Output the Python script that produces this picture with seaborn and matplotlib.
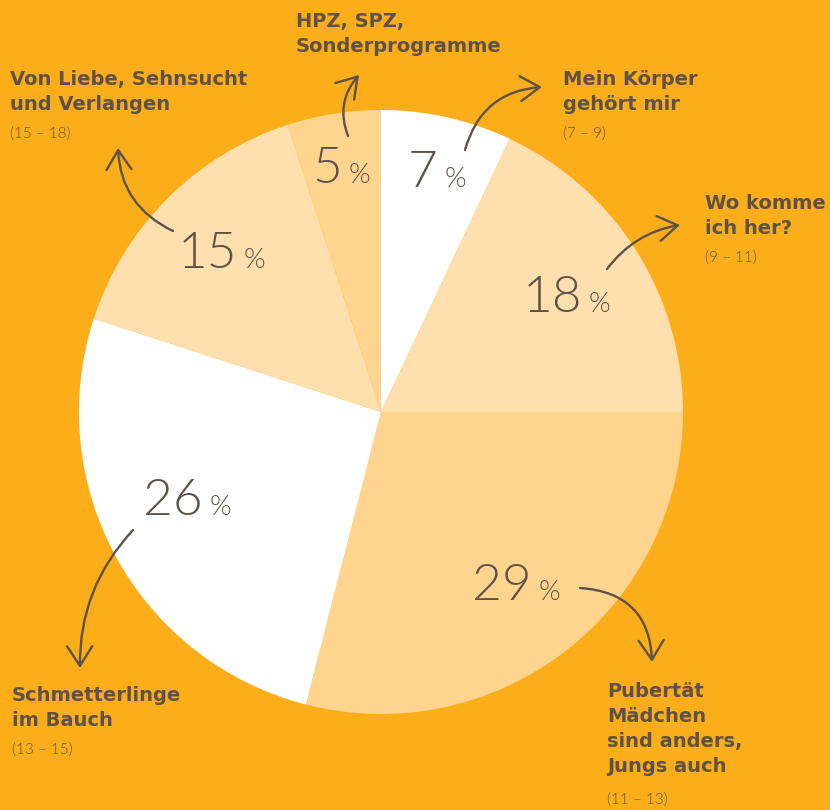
import matplotlib
matplotlib.use("Agg")
import matplotlib.pyplot as plt
from matplotlib import font_manager as fm
import seaborn as sns

sns.set_style("white")
plt.rcParams['font.family'] = ['Open Sans', 'DejaVu Sans']

# data (clockwise from 12 o'clock)
shares = [7, 18, 29, 26, 15, 5]
titles = ["Mein Körper\ngehört mir", "Wo komme\nich her?",
          "Pubertät\nMädchen\nsind anders,\nJungs auch", "Schmetterlinge\nim Bauch",
          "Von Liebe, Sehnsucht\nund Verlangen", "HPZ, SPZ,\nSonderprogramme"]
ages = ["(7 – 9)", "(9 – 11)", "(11 – 13)", "(13 – 15)", "(15 – 18)", ""]

BG = "#FBAE19"
INK = "#5E5148"
slice_colors = ["#FFFFFF", "#FEDFAD", "#FED48E", "#FFFFFF", "#FEDFAD", "#FED48E"]

W, H = 830, 810


def px(x, y):
    # pixel (y down) -> axes coords (y up)
    return x, H - y


def light_font(size):
    # thin, normal-width face for the big numbers
    for fam in ("Lato", "Roboto", "Open Sans"):
        for f in fm.fontManager.ttflist:
            if (f.name == fam and f.weight in (300, "light") and f.style == "normal"
                    and f.stretch == "normal" and "ondensed" not in f.fname
                    and "[" not in f.fname):
                return fm.FontProperties(fname=f.fname, size=size)
    return fm.FontProperties(family="Open Sans", size=size)


num_font = light_font(37)
pct_font = light_font(20)
age_font = light_font(11)

fig = plt.figure(figsize=(W / 100, H / 100), dpi=100)
fig.patch.set_facecolor(BG)
ax = fig.add_axes([0, 0, 1, 1])
ax.set_facecolor(BG)

ax.pie(shares, colors=slice_colors, startangle=90, counterclock=False,
       radius=302, center=px(381, 412), wedgeprops=dict(linewidth=0))
ax.set_xlim(0, W)
ax.set_ylim(0, H)
ax.set_aspect("equal")
ax.axis("off")

# percentage labels: junction between number and "%" and baseline
pct_pos = [(440, 187), (584, 312), (534, 600), (205, 515), (239, 268), (344, 183)]
for v, (x, y) in zip(shares, pct_pos):
    ax.text(*px(x - 2, y), str(v), ha="right", va="baseline",
            fontproperties=num_font, color=INK)
    ax.text(*px(x + 5, y), "%", ha="left", va="baseline",
            fontproperties=pct_font, color=INK)

# category labels (left edge, top)
title_pos = [(563, 70), (705, 194), (607, 682), (12, 686), (10, 70), (296, 12)]
age_pos = [(563, 127), (705, 251), (607, 793), (12, 743), (10, 127), None]
for t, (x, y) in zip(titles, title_pos):
    ax.text(*px(x, y), t, ha="left", va="top", fontsize=14, fontweight="bold",
            family=["DejaVu Sans"], color=INK, linespacing=1.4)
for a, p in zip(ages, age_pos):
    if p:
        ax.text(*px(*p), a, ha="left", va="top", fontproperties=age_font, color=INK)

# hand-drawn style arrows: (tail, head, curvature)
arrows = [((465, 150), (542, 87), -0.35),
          ((607, 269), (680, 225), -0.2),
          ((580, 588), (652, 662), -0.45),
          ((133, 530), (80, 668), 0.2),
          ((173, 231), (118, 148), -0.3),
          ((348, 136), (359, 75), -0.3)]
for tail, head, rad in arrows:
    ax.annotate("", xy=px(*head), xytext=px(*tail),
                arrowprops=dict(arrowstyle="->,head_length=0.7,head_width=0.45",
                                connectionstyle=f"arc3,rad={rad}",
                                color=INK, lw=1.7, mutation_scale=20,
                                shrinkA=0, shrinkB=0))

fig.savefig("out.png", dpi=100, facecolor=BG)
